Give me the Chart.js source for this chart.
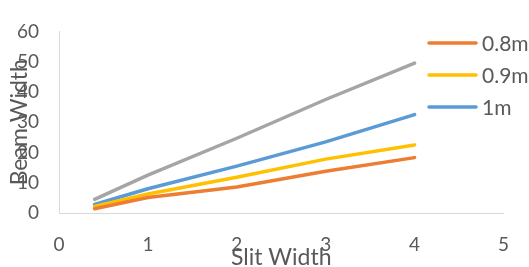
<!DOCTYPE html>
<html>
<head>
  <title>Beam Width vs Slit Width</title>
  <script src="https://cdn.jsdelivr.net/npm/chart.js"></script>
  <style>
    html, body { margin: 0; padding: 0; background: #fff; }
    #wrap { width: 529px; height: 267px; }
  </style>
</head>
<body>
  <div id="wrap"><canvas id="chart" width="529" height="267"></canvas></div>
  <script>
    // values
    const slitWidth = [0.4, 1, 2, 3, 4];
    const beam08 = [1.4, 5.1, 8.6, 13.8, 18.3];
    const beam09 = [2.2, 6.3, 11.8, 17.8, 22.5];
    const beam10 = [2.8, 8.0, 15.5, 23.5, 32.5];
    const beam11 = [4.5, 12.5, 24.7, 37.5, 49.5];

    const seriesNames = ['0.8m', '0.9m', '1m', '1.1m'];
    const seriesColors = ['#ED7D31', '#FFC000', '#5B9BD5', '#A5A5A5'];
    const legendShown = ['0.8m', '0.9m', '1m'];

    const FONT = 'Lato, "Open Sans", "Liberation Sans", sans-serif';
    const TEXT = '#595959';

    function toPoints(ys) {
      return slitWidth.map((x, i) => ({ x: x, y: ys[i] }));
    }

    const allSeries = [beam08, beam09, beam10, beam11];
    const datasets = allSeries.map((ys, i) => ({
      label: seriesNames[i],
      data: toPoints(ys),
      borderColor: seriesColors[i],
      backgroundColor: seriesColors[i],
      borderWidth: 3.5,
      borderCapStyle: 'round',
      borderJoinStyle: 'round',
      pointRadius: 0,
      fill: false,
      tension: 0
    }));

    // excel style legend drawn over the right side of the plot
    const sideLegend = {
      id: 'sideLegend',
      afterDraw(chart) {
        const ctx = chart.ctx;
        ctx.save();
        ctx.font = '21px ' + FONT;
        ctx.textBaseline = 'middle';
        ctx.fillStyle = TEXT;
        let y = 43;
        chart.data.datasets.forEach(ds => {
          if (!legendShown.includes(ds.label)) return;
          ctx.strokeStyle = ds.borderColor;
          ctx.lineWidth = 3.5;
          ctx.lineCap = 'round';
          ctx.beginPath();
          ctx.moveTo(429, y);
          ctx.lineTo(476, y);
          ctx.stroke();
          ctx.fillText(ds.label, 482, y + 1);
          y += 32;
        });
        ctx.restore();
      }
    };

    const chart = new Chart(document.getElementById('chart'), {
      type: 'line',
      data: { datasets: datasets },
      plugins: [sideLegend],
      options: {
        responsive: false,
        animation: false,
        layout: { padding: { top: 20, right: 22, left: 0, bottom: 0 } },
        plugins: {
          legend: { display: false },
          tooltip: { enabled: false }
        },
        scales: {
          x: {
            type: 'linear',
            min: 0,
            max: 5,
            afterFit(scale) { scale.height = 54; },
            grid: { display: false, drawTicks: false },
            border: { display: true, color: '#D9D9D9', width: 1 },
            ticks: { stepSize: 1, padding: 20, color: TEXT, font: { family: FONT, size: 19 } },
            title: {
              display: true, text: 'Slit Width', color: TEXT,
              font: { family: FONT, size: 23 }, padding: { top: 0, bottom: -4 }
            }
          },
          y: {
            min: 0,
            max: 60,
            afterFit(scale) { scale.width = 59; },
            grid: { display: false, drawTicks: false },
            border: { display: true, color: '#D9D9D9', width: 1 },
            ticks: { stepSize: 10, padding: 20, color: TEXT, font: { family: FONT, size: 19 } },
            title: {
              display: true, text: 'Beam Width', color: TEXT,
              font: { family: FONT, size: 23 }, padding: { top: 6, bottom: 0 }
            }
          }
        }
      }
    });
  </script>
</body>
</html>
